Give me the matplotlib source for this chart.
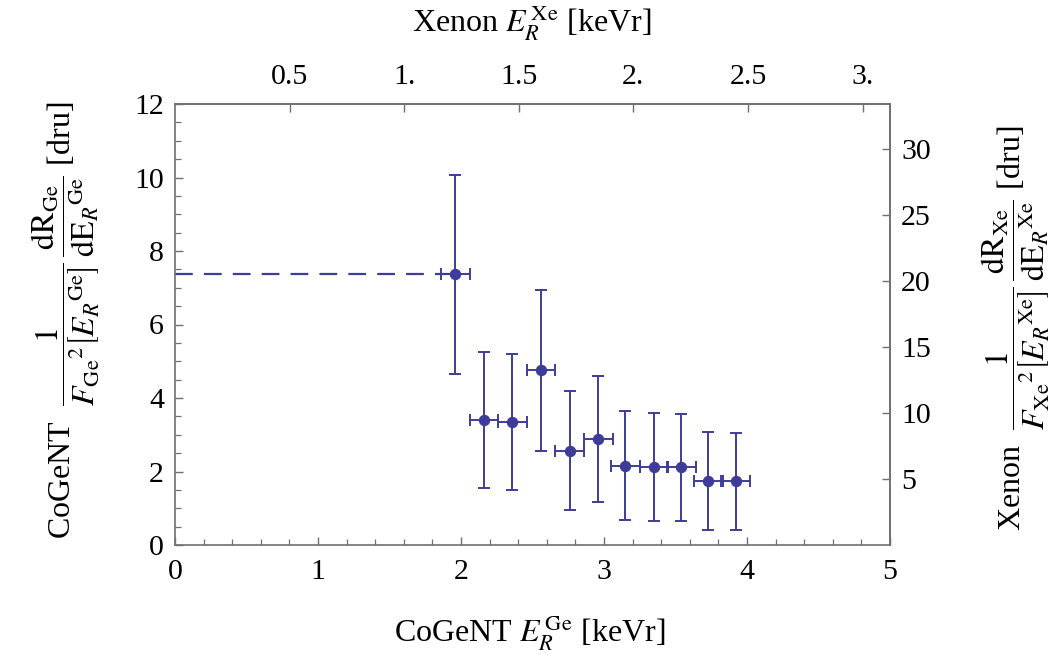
import matplotlib
matplotlib.use("Agg")
import matplotlib.pyplot as plt
from matplotlib.ticker import FixedLocator, MultipleLocator, FixedFormatter

plt.rcParams['font.family'] = ['Liberation Serif', 'DejaVu Serif']
plt.rcParams['mathtext.fontset'] = 'stix'

# data (CoGeNT)
energy = [1.96, 2.16, 2.36, 2.56, 2.76, 2.96, 3.15, 3.35, 3.54, 3.73, 3.92]
rate = [7.37, 3.40, 3.36, 4.76, 2.56, 2.89, 2.15, 2.13, 2.11, 1.75, 1.73]
rate_hi = [10.08, 5.24, 5.21, 6.95, 4.18, 4.60, 3.64, 3.60, 3.57, 3.08, 3.06]
rate_lo = [4.64, 1.54, 1.51, 2.56, 0.96, 1.18, 0.68, 0.66, 0.645, 0.42, 0.40]
energy_err = 0.1
dash_x = [0.0, 1.96]
dash_y = [7.37, 7.37]

bottom_ticks = [0, 1, 2, 3, 4, 5]
left_ticks = [0, 2, 4, 6, 8, 10, 12]
top_ticks = [0.5, 1.0, 1.5, 2.0, 2.5, 3.0]
top_labels = ['0.5', '1.', '1.5', '2.', '2.5', '3.']
right_ticks = [5, 10, 15, 20, 25, 30]

xe_ratio = 0.624     # Xe energy / Ge energy
rate_ratio = 2.784   # Xe rate / Ge rate

color = '#3d3d99'
spine_c = '#707070'
tick_fs = 21.5
label_fs = 23

fig = plt.figure(figsize=(10.6, 6.55), dpi=100)
ax = fig.add_axes([175/1060, 110/655, 715/1060, 441/655])

yerr = [[r - l for r, l in zip(rate, rate_lo)], [h - r for r, h in zip(rate, rate_hi)]]
ax.plot(dash_x, dash_y, color=color, lw=1.6, dashes=(8, 5))
ax.errorbar(energy, rate, yerr=yerr, xerr=energy_err, fmt='o', color=color,
            ms=7.2, elinewidth=1.4, capsize=4.5, capthick=1.4)

ax.set_xlim(0, 5)
ax.set_ylim(0, 12)
ax.xaxis.set_major_locator(FixedLocator(bottom_ticks))
ax.xaxis.set_minor_locator(MultipleLocator(0.2))
ax.yaxis.set_major_locator(FixedLocator(left_ticks))
ax.yaxis.set_minor_locator(MultipleLocator(0.5))
ax.tick_params(which='major', direction='in', length=6, width=1, color=spine_c,
               labelsize=tick_fs, top=False, right=False)
ax.tick_params(axis='x', which='major', pad=10)
ax.tick_params(axis='y', which='major', pad=8)
ax.tick_params(which='minor', direction='in', length=4, width=0.9, color=spine_c,
               top=False, right=False)
for s in ax.spines.values():
    s.set_color(spine_c)
    s.set_linewidth(1.2)

secx = ax.secondary_xaxis('top', functions=(lambda x: x * xe_ratio, lambda x: x / xe_ratio))
secx.xaxis.set_major_locator(FixedLocator(top_ticks))
secx.xaxis.set_major_formatter(FixedFormatter(top_labels))
secx.xaxis.set_minor_locator(FixedLocator([]))
secx.tick_params(direction='in', length=6, width=1, color=spine_c, labelsize=tick_fs, pad=10)
secx.spines['top'].set_color(spine_c)
secx.spines['top'].set_linewidth(1.2)

secy = ax.secondary_yaxis('right', functions=(lambda y: y * rate_ratio, lambda y: y / rate_ratio))
secy.yaxis.set_major_locator(FixedLocator(right_ticks))
secy.yaxis.set_minor_locator(FixedLocator([]))
secy.tick_params(direction='in', length=6, width=1, color=spine_c, labelsize=tick_fs, pad=8)
secy.spines['right'].set_color(spine_c)
secy.spines['right'].set_linewidth(1.2)

fig.text(530/1060, 1 - 633/655, r'CoGeNT $E_R^{\,\mathrm{Ge}}$ [keVr]', ha='center', va='center', fontsize=label_fs)
fig.text(532/1060, 1 - 22/655, r'Xenon $E_R^{\,\mathrm{Xe}}$ [keVr]', ha='center', va='center', fontsize=label_fs)

left_lab = (r'CoGeNT  $\dfrac{1}{F_{\mathrm{Ge}}{}^{2}\left[E_R{}^{\mathrm{Ge}}\right]}'
            r'\,\dfrac{\mathrm{dR}_{\mathrm{Ge}}}{\mathrm{dE}_R{}^{\mathrm{Ge}}}$ [dru]')
right_lab = (r'Xenon  $\dfrac{1}{F_{\mathrm{Xe}}{}^{2}\left[E_R{}^{\mathrm{Xe}}\right]}'
             r'\,\dfrac{\mathrm{dR}_{\mathrm{Xe}}}{\mathrm{dE}_R{}^{\mathrm{Xe}}}$ [dru]')
fig.text(66/1060, 1 - 320/655, left_lab, rotation=90, ha='center', va='center', fontsize=label_fs)
fig.text(1016/1060, 1 - 328/655, right_lab, rotation=90, ha='center', va='center', fontsize=label_fs)

fig.savefig('out.png', dpi=100)
